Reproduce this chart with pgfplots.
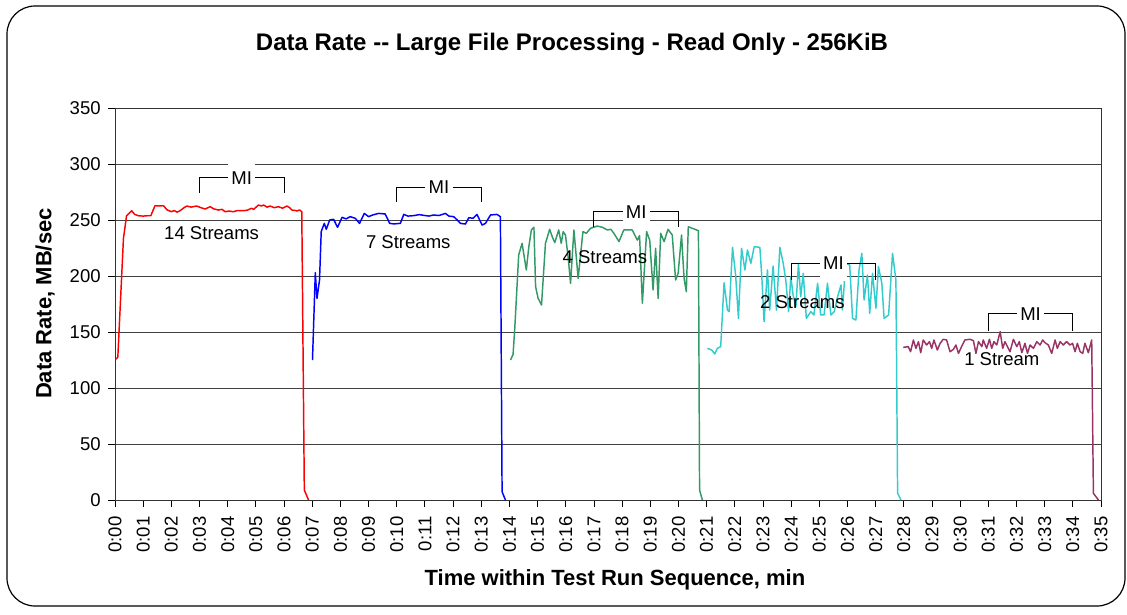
\documentclass[border=0pt]{standalone}
\usepackage{fontspec}
\setmainfont{Liberation Sans}
\usepackage{pgfplots}
\pgfplotsset{compat=1.18}
\definecolor{cRed}{RGB}{255,0,0}
\definecolor{cBlue}{RGB}{0,0,255}
\definecolor{cGreen}{RGB}{51,153,102}
\definecolor{cCyan}{RGB}{51,204,204}
\definecolor{cPlum}{RGB}{153,51,102}
\newcommand{\tickfont}{\fontsize{13.9}{16}\selectfont}
\newcommand{\axlabfont}{\bfseries\fontsize{16.5}{19}\selectfont}

\begin{document}
\begin{tikzpicture}
\path[use as bounding box] (0,0) rectangle (845.25pt,-460.5pt);
\draw[rounded corners=21pt, line width=0.9pt] (5.25pt,-4.5pt) rectangle (843.75pt,-454.5pt);
\begin{axis}[
  at={(86.25pt,-375pt)}, anchor=south west,
  scale only axis, width=739.5pt, height=294pt,
  xmin=0, xmax=35, ymin=0, ymax=350,
  xtick={0,1,...,35},
  xticklabels={0:00,0:01,0:02,0:03,0:04,0:05,0:06,0:07,0:08,0:09,0:10,0:11,0:12,0:13,0:14,0:15,0:16,0:17,0:18,0:19,0:20,0:21,0:22,0:23,0:24,0:25,0:26,0:27,0:28,0:29,0:30,0:31,0:32,0:33,0:34,0:35},
  ytick={0,50,...,350},
  ymajorgrids, grid style={black!75, line width=0.6pt},
  tick pos=left, tick align=outside, major tick length=5.25pt,
  tick style={black, line width=0.6pt},
  axis line style={black!80, line width=0.6pt},
  /pgf/number format/assume math mode=true,
  tick label style={font=\tickfont},
  x tick label style={yshift=-3.5pt, rotate=90, anchor=east},
  y tick label style={xshift=-2pt},
  every axis title shift=0pt,
  title={Data Rate -{}- Large File Processing - Read Only - 256KiB},
  title style={at={(axis description cs:0.4635,1.163)}, anchor=center, font=\bfseries\fontsize{18}{21}\selectfont},
  xlabel={Time within Test Run Sequence, min},
  xlabel style={at={(axis description cs:0.507,-0.204)}, anchor=center, font=\axlabfont},
  ylabel={Data Rate, MB/sec},
  ylabel style={at={(axis description cs:-0.071,0.501)}, anchor=center, font=\axlabfont},
  every axis plot/.append style={line width=1.1pt, line join=round, mark=none},
]
% 14 streams
\addplot[cRed] table {
0.02 125.6
0.10 127.4
0.30 233.6
0.41 253.8
0.50 256
0.59 258.3
0.70 255
0.83 253.8
1.00 253.5
1.15 253.8
1.27 253.8
1.42 262.8
1.55 262.5
1.72 262.8
1.85 259
2.01 257.4
2.10 258.5
2.20 257
2.31 258.3
2.45 261
2.55 262.5
2.70 261.5
2.90 262.5
3.05 261
3.20 259.8
3.38 261.9
3.50 260
3.67 258.9
3.80 259.5
3.91 257.4
4.05 258
4.20 257.4
4.35 258.5
4.56 258.3
4.70 258.8
4.85 260.5
4.92 259.4
5.09 263.4
5.20 262.5
5.27 263.4
5.40 261.5
5.51 262.5
5.65 261
5.80 261.9
5.95 260.5
6.10 262.5
6.20 261
6.28 258.9
6.40 258.5
6.46 258
6.55 259
6.63 257.4
6.72 8.9
6.87 0
};
% 7 streams
\addplot[cBlue] table {
7.01 125
7.11 203
7.17 180
7.26 196.4
7.32 239.6
7.43 247
7.50 241.7
7.62 250
7.76 250.6
7.90 243.5
8.06 252.4
8.20 251
8.35 253
8.53 251.5
8.68 247
8.85 255.9
9.00 253
9.15 254.5
9.36 255.9
9.59 255.4
9.75 247
9.90 246.5
10.13 247
10.25 255
10.40 253.5
10.60 253.9
10.80 254.8
11.00 254
11.15 253.5
11.31 254.5
11.50 254
11.73 255.9
11.85 253.5
12.02 253
12.15 250
12.26 247
12.44 246.4
12.56 252.1
12.71 251.5
12.85 255
13.03 245.5
13.15 247
13.33 254.5
13.56 255
13.68 253
13.74 7.4
13.86 0
};
% 4 streams
\addplot[cGreen] table {
14.04 125
14.13 130
14.19 153
14.27 190.5
14.33 218.8
14.45 229.2
14.60 205.4
14.69 226.2
14.78 241.1
14.87 243.5
14.93 190.5
15.02 180
15.14 174.1
15.28 229.2
15.43 241.7
15.52 235.1
15.61 229.8
15.75 241.1
15.84 229.2
15.91 239.6
15.99 236.6
16.09 215.8
16.17 193.5
16.29 241.1
16.44 197.9
16.61 239.6
16.73 238.1
16.88 242.6
17.12 244.6
17.30 243.5
17.48 241.1
17.60 241.7
17.71 238.1
17.89 230.7
18.06 241.1
18.36 241.1
18.54 232.1
18.62 236
18.72 175.6
18.87 239.6
18.98 232.1
19.10 187.5
19.19 224.7
19.28 180
19.37 238.1
19.49 230.7
19.63 241.7
19.78 236.6
19.90 196.4
19.99 202.4
20.11 236.6
20.20 197.9
20.28 186
20.35 244
20.49 242.6
20.71 240.5
20.75 8.9
20.85 0
};
% 2 streams
\addplot[cCyan] table {
21.03 135.4
21.18 133.9
21.29 130.4
21.38 135.4
21.50 136.9
21.62 194
21.74 169.6
21.80 168.2
21.92 225.6
22.03 200.9
22.13 162.2
22.24 224.7
22.36 205.4
22.45 223.2
22.57 211.3
22.69 226.2
22.89 225.6
22.96 199.4
23.04 159.2
23.16 205.4
23.24 169.6
23.36 208.9
23.48 169.6
23.60 225.6
23.72 211.3
23.81 196.4
23.91 168.2
23.99 199.4
24.07 183
24.17 172.6
24.26 211.3
24.34 181.5
24.43 202.4
24.54 162.2
24.70 168.2
24.81 165.2
24.94 193.5
25.05 165.2
25.17 165.2
25.29 193.5
25.41 165.2
25.53 168.2
25.65 181.5
25.77 192
25.82 169.6
25.94 211.3
26.08 209.8
26.18 162.2
26.30 160.7
26.41 205.4
26.51 220.2
26.59 178.6
26.71 200.9
26.79 166.7
26.89 202.4
27.01 171.1
27.10 208.3
27.22 193.5
27.30 162.2
27.46 165.2
27.60 220.2
27.72 196.4
27.78 6
27.90 0
};
% 1 stream
\addplot[cPlum] table {
27.98 136.3
28.16 136.9
28.24 132.4
28.34 142.9
28.43 135.4
28.52 141.4
28.60 131.5
28.69 142.9
28.81 138.4
28.91 141.4
28.99 135.4
29.07 142.9
29.19 133.9
29.29 139.9
29.40 143.5
29.52 142.9
29.64 132.4
29.76 134.5
29.85 138.4
29.94 130.9
30.05 136.9
30.17 142.9
30.35 143.5
30.47 142.3
30.56 130.9
30.65 141.4
30.77 136.9
30.82 142.9
30.94 135.4
31.04 143.5
31.12 135.4
31.20 141.4
31.30 138.4
31.42 150.3
31.51 135.4
31.59 141.4
31.68 136.9
31.77 132.4
31.89 143.5
32.01 136.9
32.10 141.4
32.19 131.5
32.30 139.9
32.39 130.9
32.48 138.4
32.60 135.4
32.72 141.4
32.84 138.4
32.93 142.9
33.01 140.5
33.13 138.4
33.25 130.9
33.37 142.9
33.45 135.4
33.55 141.4
33.66 138.4
33.78 141.4
33.90 138.4
33.99 139.9
34.08 132.4
34.16 139.9
34.26 132.4
34.35 130.9
34.43 139.9
34.55 131.5
34.67 142.9
34.73 6
34.91 0
};
% stream labels
\node[font=\tickfont] at (axis cs:3.43,238.1) {14 Streams};
\node[font=\tickfont] at (axis cs:10.41,230.6) {7 Streams};
\node[font=\tickfont] at (axis cs:17.39,217.2) {4 Streams};
\node[font=\tickfont] at (axis cs:24.40,177.1) {2 Streams};
\node[font=\tickfont] at (axis cs:31.48,125.6) {1 Stream};
% MI brackets
\draw[black, line width=0.75pt] (axis cs:3,274.4) -- (axis cs:3,287.8) -- (axis cs:6,287.8) -- (axis cs:6,274.4);
\draw[black, line width=0.75pt] (axis cs:10,266.4) -- (axis cs:10,279.2) -- (axis cs:13,279.2) -- (axis cs:13,266.4);
\draw[black, line width=0.75pt] (axis cs:17,244) -- (axis cs:17,257.4) -- (axis cs:20,257.4) -- (axis cs:20,244);
\draw[black, line width=0.75pt] (axis cs:24,196.4) -- (axis cs:24,211.3) -- (axis cs:27,211.3) -- (axis cs:27,196.4);
\draw[black, line width=0.75pt] (axis cs:31,151.2) -- (axis cs:31,166.1) -- (axis cs:34,166.1) -- (axis cs:34,151.2);
\node[fill=white, font=\tickfont, inner xsep=2.5pt, minimum height=26pt] at (axis cs:4.5,287.8) {MI};
\node[fill=white, font=\tickfont, inner xsep=2.5pt, minimum height=26pt] at (axis cs:11.5,279.2) {MI};
\node[fill=white, font=\tickfont, inner xsep=2.5pt, minimum height=26pt] at (axis cs:18.5,257.4) {MI};
\node[fill=white, font=\tickfont, inner xsep=2.5pt, minimum height=26pt] at (axis cs:25.5,211.3) {MI};
\node[fill=white, font=\tickfont, inner xsep=2.5pt, minimum height=26pt] at (axis cs:32.5,166.1) {MI};
\end{axis}
\end{tikzpicture}
\end{document}
